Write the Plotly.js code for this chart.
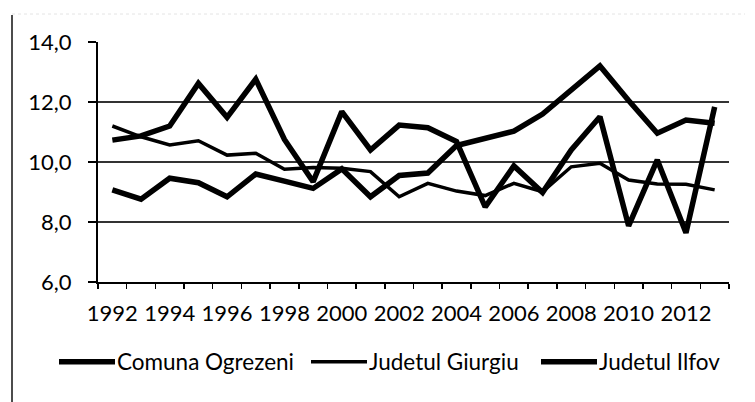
<!DOCTYPE html>
<html><head><meta charset="utf-8">
<script src="https://cdn.plot.ly/plotly-3.0.1.min.js"></script>
<style>
html,body{margin:0;padding:0;background:#fff}
#chart{width:755px;height:402px}
#chart g.legendlines path{d:path('M7,0h56')}
</style>
</head><body><div id="chart"></div>
<script>
const years = [1992,1993,1994,1995,1996,1997,1998,1999,2000,2001,2002,2003,2004,2005,2006,2007,2008,2009,2010,2011,2012,2013];
const tickLabels = ['1992','','1994','','1996','','1998','','2000','','2002','','2004','','2006','','2008','','2010','','2012',''];
const ogrezeni = [10.73,10.87,11.2,12.62,11.49,12.76,10.75,9.34,11.68,10.4,11.23,11.14,10.68,8.5,9.87,8.98,10.4,11.51,7.87,10.07,7.64,11.84];
const giurgiu  = [11.2,10.84,10.57,10.71,10.23,10.29,9.76,9.82,9.79,9.68,8.84,9.29,9.03,8.88,9.29,9.01,9.84,9.96,9.4,9.27,9.26,9.07];
const ilfov    = [9.07,8.76,9.46,9.31,8.84,9.6,9.36,9.12,9.77,8.84,9.55,9.63,10.55,10.8,11.03,11.6,12.4,13.2,12.05,10.96,11.4,11.29];
const seriesNames = ['Comuna Ogrezeni','Judetul Giurgiu','Judetul Ilfov'];
const yTicks = [6,8,10,12,14];

const FONT = 'Lato, "Open Sans", sans-serif';
const L = 98, R = 729, T = 42, B = 282, W = 755, H = 402;
const px2x = p => (p - L) / (R - L);
const px2y = p => (B - p) / (B - T);

const traces = [
  {x: years, y: ogrezeni, name: seriesNames[0], type: 'scatter', mode: 'lines',
   line: {color: '#000', width: 5.5}, legend: 'legend'},
  {x: years, y: giurgiu, name: seriesNames[1], type: 'scatter', mode: 'lines',
   line: {color: '#000', width: 3.5}, legend: 'legend2'},
  {x: years, y: ilfov, name: seriesNames[2], type: 'scatter', mode: 'lines',
   line: {color: '#000', width: 5.5}, legend: 'legend3'}
];

const legendBase = {orientation: 'h', yanchor: 'middle', xanchor: 'left', y: px2y(362),
  font: {family: FONT, size: 22.5, color: '#000'}, bgcolor: 'rgba(0,0,0,0)', itemwidth: 55, tracegroupgap: 0};

const layout = {
  width: W, height: H,
  margin: {l: L, r: W - R, t: T, b: H - B},
  paper_bgcolor: '#fff', plot_bgcolor: '#fff',
  font: {family: FONT, size: 22, color: '#000'},
  separators: ',.',
  showlegend: true,
  legend: Object.assign({}, legendBase, {x: px2x(52)}),
  legend2: Object.assign({}, legendBase, {x: px2x(304)}),
  legend3: Object.assign({}, legendBase, {x: px2x(534)}),
  xaxis: {
    type: 'category', tickvals: years, ticktext: tickLabels, tickson: 'boundaries',
    range: [-0.5, years.length - 0.5],
    ticks: 'outside', ticklen: 5, tickwidth: 1.5, tickcolor: '#000', ticklabelstandoff: 11,
    showline: true, linecolor: '#000', linewidth: 2, showgrid: false, zeroline: false,
    tickfont: {family: FONT, size: 22, color: '#000'}, tickangle: 0
  },
  yaxis: {
    range: [6, 14], tickvals: yTicks, tickformat: '.1f',
    ticks: 'outside', ticklen: 8, tickwidth: 1.5, tickcolor: '#000', ticklabelstandoff: 12,
    showline: true, linecolor: '#000', linewidth: 2,
    showgrid: true, gridcolor: '#333', gridwidth: 1.4, zeroline: false,
    tickfont: {family: FONT, size: 22, color: '#000'}
  },
  shapes: [
    {type: 'line', xref: 'paper', yref: 'paper', x0: px2x(12), x1: px2x(12), y0: px2y(15), y1: px2y(402),
     line: {color: '#111', width: 1.5}},
    {type: 'line', xref: 'paper', yref: 'paper', x0: px2x(12), x1: px2x(745), y0: px2y(14), y1: px2y(14),
     line: {color: '#e4e4e4', width: 1, dash: 'dot'}}
  ]
};

Plotly.newPlot('chart', traces, layout, {staticPlot: true, displayModeBar: false});
</script>
</body></html>
